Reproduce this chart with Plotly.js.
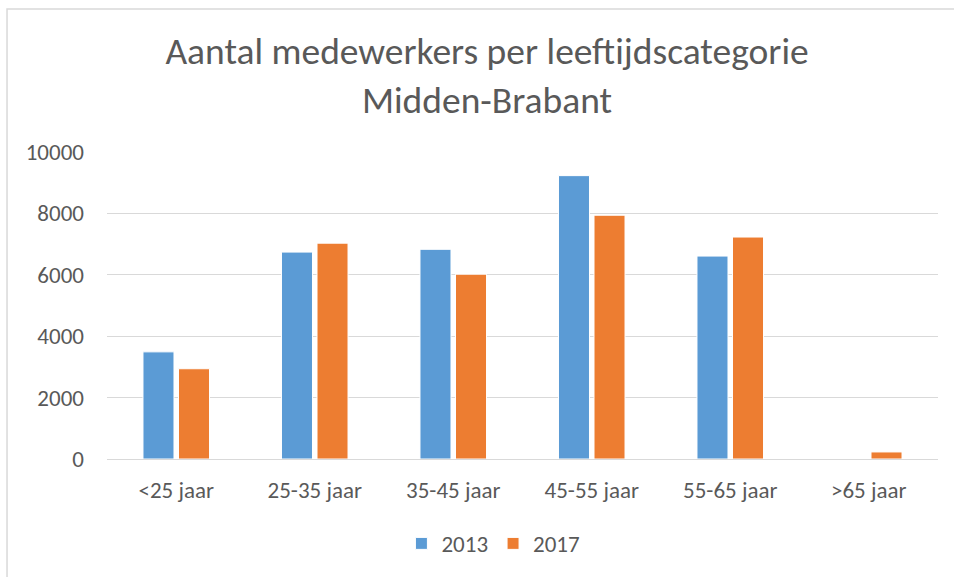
<!DOCTYPE html>
<html>
<head>
<meta charset="utf-8">
<script src="https://cdn.plot.ly/plotly-3.0.1.min.js"></script>
<style>html,body{margin:0;padding:0;background:#fff;}#chart{width:954px;height:577px;}</style>
</head>
<body>
<div id="chart"></div>
<script>
const categories = ["<25 jaar", "25-35 jaar", "35-45 jaar", "45-55 jaar", "55-65 jaar", ">65 jaar"];
const values2013 = [3490, 6740, 6830, 9230, 6610, 0];
const values2017 = [2940, 7030, 6020, 7940, 7230, 230];
const seriesNames = ["2013", "2017"];
const yTicks = [0, 2000, 4000, 6000, 8000, 10000];

const fontFam = "Carlito, Calibri, 'Open Sans', 'Liberation Sans', sans-serif";
const grey = "#595959";

const traces = [
  {type: "bar", name: seriesNames[0], x: categories, y: values2013,
   marker: {color: "#5b9bd5", line: {color: "#ffffff", width: 1}}},
  {type: "bar", name: seriesNames[1], x: categories, y: values2017,
   marker: {color: "#ed7d31", line: {color: "#ffffff", width: 1}}}
];

const layout = {
  width: 954, height: 577,
  margin: {l: 107, r: 16, t: 152, b: 116},
  paper_bgcolor: "#ffffff", plot_bgcolor: "#ffffff",
  font: {family: fontFam, color: grey},
  title: {text: "Aantal medewerkers per leeftijdscategorie<br>Midden-Brabant",
          font: {family: fontFam, size: 37.5, color: grey},
          x: 0.5105, xanchor: "center", yref: "container", y: 0.8895, yanchor: "middle"},
  barmode: "group", bargap: 0.487, bargroupgap: 0.127,
  xaxis: {tickfont: {size: 23, color: grey}, showline: false, ticks: "",
          showgrid: false, fixedrange: true, ticklabelstandoff: 15},
  yaxis: {range: [0, 10000], tickvals: yTicks, ticktext: yTicks.map(String),
          tickfont: {size: 23, color: grey}, gridcolor: "#d9d9d9", gridwidth: 1,
          zeroline: true, zerolinecolor: "#d9d9d9", zerolinewidth: 1,
          showline: false, ticks: "", ticklabelstandoff: 22, fixedrange: true},
  showlegend: true,
  legend: {orientation: "h", x: 0.465, xanchor: "center", y: -0.275, yanchor: "middle",
           font: {size: 23, color: grey}, itemwidth: 30, traceorder: "normal"},
  shapes: [
    {type: "rect", xref: "paper", yref: "paper", x0: -0.1203, x1: 1.1, y0: -0.6, y1: 1.466,
     line: {color: "#d9d9d9", width: 1.5}, fillcolor: "rgba(0,0,0,0)", layer: "below"}
  ]
};

Plotly.newPlot("chart", traces, layout, {displayModeBar: false, staticPlot: true});
</script>
</body>
</html>
